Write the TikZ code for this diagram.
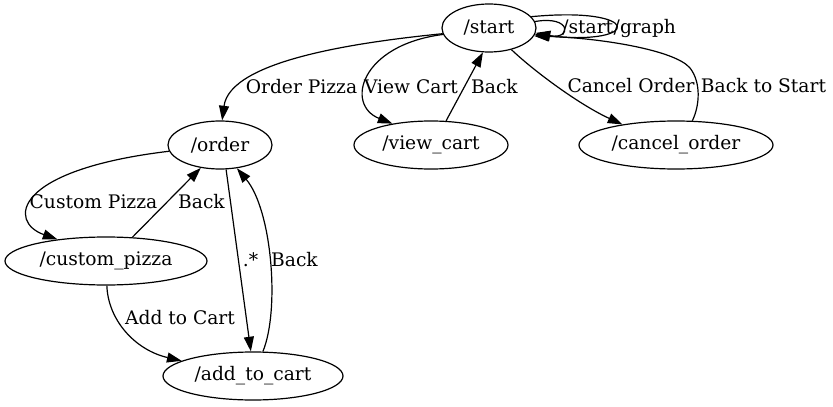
\documentclass[tikz,border=0pt]{standalone}
\usepackage{fontspec}
\setmainfont{DejaVu Serif}
\usetikzlibrary{shapes.geometric,arrows.meta}
\begin{document}
\begin{tikzpicture}[x=0.75pt,y=-0.75pt,
  state/.style={ellipse,draw,line width=0.9pt,inner sep=0pt,minimum height=36pt,font=\fontsize{14pt}{16pt}\selectfont},
  conn/.style={line width=0.9pt,-{Triangle[length=11pt,width=7.5pt]}},
  lbl/.style={inner sep=0pt,font=\fontsize{14pt}{16pt}\selectfont}]
\fill[white] (0,0) rectangle (833,407);
\useasboundingbox (0,0) rectangle (833,407);
% nodes
\node[state,minimum width=70.5pt]  (start)  at (489,28)  {/start};
\node[state,minimum width=78pt]    (order)  at (220,145) {/order};
\node[state,minimum width=115.5pt] (view)   at (431,145) {/view\_cart};
\node[state,minimum width=145.5pt] (cancel) at (676,145) {/cancel\_order};
\node[state,minimum width=151.5pt] (custom) at (106,261) {/custom\_pizza};
\node[state,minimum width=135pt]   (add)    at (253,376) {/add\_to\_cart};
% labels
\node[lbl] (lOrder)  at (301.5,87) {Order Pizza};
\node[lbl] (lView)   at (411,87)   {View Cart};
\node[lbl] (lBack1)  at (494.5,87) {Back};
\node[lbl] (lCancel) at (631,86)   {Cancel Order};
\node[lbl] (lBtS)    at (763.5,86) {Back to Start};
\node[lbl,anchor=west] (lS) at (562,28) {/start};
\node[lbl,anchor=west] (lG) at (lS.east) {/graph};
\node[lbl] (lCustom) at (93.5,202) {Custom Pizza};
\node[lbl] (lBack2)  at (201.5,202) {Back};
\node[lbl] (lAny)    at (250.5,260) {.*};
\node[lbl] (lBack3)  at (294.5,260) {Back};
\node[lbl] (lAdd)    at (180,318)  {Add to Cart};
% edges
\draw[conn] (start.187.4) .. controls (360,42) and (230,60) .. (order.85);
\draw[conn] (start.188.5) .. controls (360,45) and (345,105) .. (view.151.7);
\draw[conn] (view.58) -- (start.256);
\draw[conn] (start.316) .. controls (535,72) and (580,105) .. (cancel.159.3);
\draw[conn] (cancel.56.3) .. controls (700,105) and (701,82) .. (690,68)
   .. controls (675,50) and (600,38) .. (start.-10);
\draw[conn] (start.8) .. controls (572,15) and (572,40) .. (start.-6);
\draw[conn] (start.15) .. controls (643,6) and (643,46) .. (start.-8);
\draw[conn] (order.187.7) .. controls (12,170) and (8,222) .. (custom.156.4);
\draw[conn] (custom.42.7) -- (order.230.7);
\draw[conn] (order.284) -- (add.95);
\draw[conn] (add.68.6) .. controls (280,310) and (272,210) .. (order.306);
\draw[conn] (custom.272.4) .. controls (108,320) and (135,350) .. (add.168.7);
\end{tikzpicture}
\end{document}
